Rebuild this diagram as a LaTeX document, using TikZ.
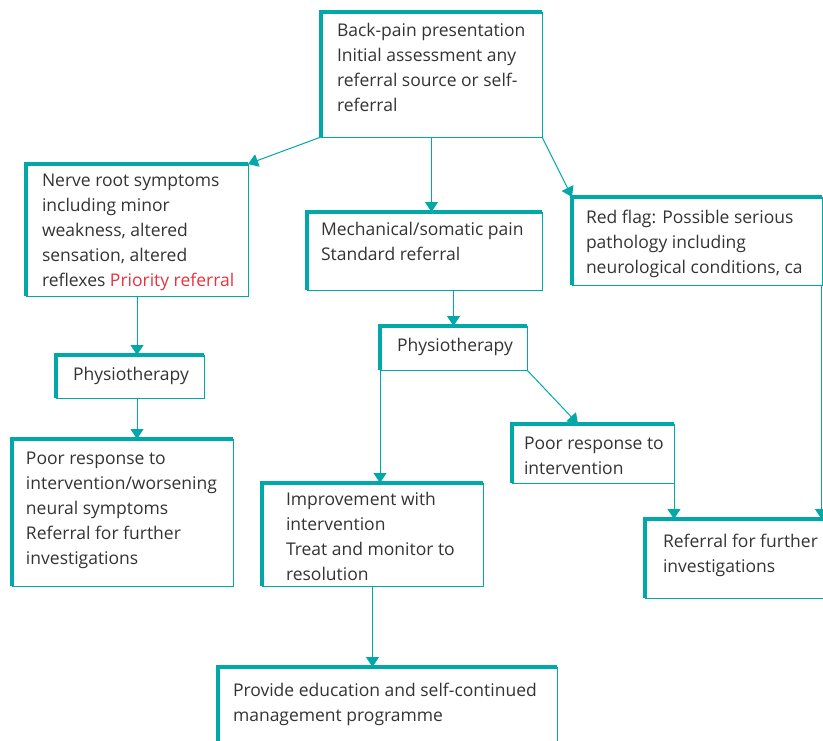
\documentclass[tikz,border=0pt]{standalone}
\usepackage{fontspec}
\setmainfont{Open Sans}
\usetikzlibrary{arrows.meta,calc}
\definecolor{teal1}{HTML}{00A8A8}
\definecolor{red1}{HTML}{E8323C}
\definecolor{textgray}{HTML}{333333}
\tikzset{
  fbox/.style={draw=teal1, line width=1pt, inner sep=0pt, outer sep=0pt, anchor=north west,
    append after command={\pgfextra{\draw[teal1, line width=3.5pt, line join=miter]
      (\tikzlastnode.south west) -- (\tikzlastnode.north west) -- (\tikzlastnode.north east);}}},
  txt/.style={anchor=base west, align=left, inner sep=0pt, outer sep=0pt, text=textgray,
    font=\fontsize{17.5}{25}\selectfont},
  arr/.style={draw=teal1, line width=1pt, -{Triangle[width=13pt,length=10pt]}}
}
\begin{document}
\begin{tikzpicture}[x=1pt,y=-1pt]
\useasboundingbox (0,0) rectangle (823,740);
\clip (0,0) rectangle (823,740);
% boxes
\node[fbox, minimum width=221pt, minimum height=125pt] (b1) at (321,12) {};
\node[fbox, minimum width=222pt, minimum height=132pt] (b2) at (26,164) {};
\node[fbox, minimum width=148pt, minimum height=43pt] (b3) at (56,355) {};
\node[fbox, minimum width=221pt, minimum height=147pt] (b4) at (12,439) {};
\node[fbox, minimum width=235pt, minimum height=78pt] (b5) at (307,212) {};
\node[fbox, minimum width=147pt, minimum height=44pt] (b6) at (380,326) {};
\node[fbox, minimum width=221pt, minimum height=103pt] (b7) at (262,483) {};
\node[fbox, minimum width=162pt, minimum height=59pt] (b8) at (512,424) {};
\node[fbox, minimum width=339pt, minimum height=90pt] (b9) at (218,667) {};
\node[fbox, minimum width=200pt, minimum height=79pt] (b10) at (645,519) {};
\node[fbox, minimum width=250pt, minimum height=88pt] (b11) at (572,197) {};
% texts (anchored at the baseline of the last line)
\node[txt] (t1) at (337,111) {Back-pain presentation\\Initial assessment any\\referral source or self-\\referral};
\node[txt] (t2) at (42,286) {Nerve root symptoms\\including minor\\weakness, altered\\sensation, altered\\reflexes {\color{red1}Priority referral}};
\node[txt] (t3) at (73,380) {Physiotherapy};
\node[txt] (t4) at (26,564) {Poor response to\\intervention/worsening\\neural symptoms\\Referral for further\\investigations};
\node[txt] (t5) at (321,260) {Mechanical/somatic pain\\Standard referral};
\node[txt] (t6) at (397,351) {Physiotherapy};
\node[txt] (t7) at (286,580) {Improvement with\\intervention\\Treat and monitor to\\resolution};
\node[txt] (t8) at (524,474) {Poor response to\\intervention};
\node[txt] (t9) at (233,721) {Provide education and self-continued\\management programme};
\node[txt] (t10) at (663,572) {Referral for further\\investigations};
\node[txt] (t11) at (586,273) {Red flag: Possible serious\\pathology including\\neurological conditions, ca};
% connectors
\draw[arr] (b1.south west) -- (b2.north east);
\draw[arr] (b1.south) -- (b1.south |- b5.north);
\draw[arr] (b1.south east) -- (b11.north west);
\draw[arr] (b2.south) -- (b2.south |- b3.north);
\draw[arr] (b2.south |- b3.south) -- (b2.south |- b4.north);
\draw[arr] (b6.north |- b5.south) -- (b6.north);
\draw[arr] (b6.south west) -- (b6.south west |- b7.north);
\draw[arr] (b6.south east) -- ([xshift=-15pt]b8.north);
\draw[arr] (b7.south) -- (b7.south |- b9.north);
\draw[arr] (b8.south east) -- (b8.south east |- b10.north);
\draw[arr] ([xshift=-0.5pt]b11.south east) -- ([xshift=-0.5pt]b11.south east |- b10.north);
\end{tikzpicture}
\end{document}
